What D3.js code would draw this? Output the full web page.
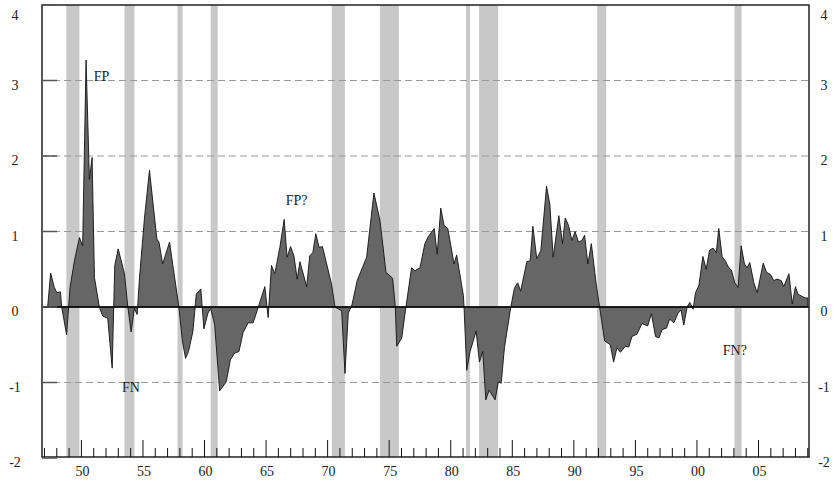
<!DOCTYPE html>
<html>
<head>
<meta charset="utf-8">
<script src="https://cdn.jsdelivr.net/npm/d3@7"></script>
<style>
body { margin: 0; background: #fff; }
text { font-family: "Liberation Serif", "DejaVu Serif", serif; font-size: 14px; fill: #222; }
</style>
</head>
<body>
<div id="plot"></div>
<script>
var width = 836, height = 483;
var margin = { top: 5, right: 27, bottom: 26, left: 42 };

// recession bands (in chart's year units)
var recessions = [[1948.78, 1949.84], [1953.5, 1954.31], [1957.81, 1958.22], [1960.5, 1961.07],
    [1970.34, 1971.4], [1974.25, 1975.79], [1981.24, 1981.57], [1982.3, 1983.85],
    [1991.9, 1992.63], [2003.05, 2003.62]];

var years = [1947.0, 1947.26, 1947.5, 1947.8, 1948.0, 1948.3, 1948.4, 1948.8, 1949.08, 1949.43, 1949.84,
    1950.1, 1950.38, 1950.65, 1950.87, 1951.06, 1951.46, 1951.73, 1952.14, 1952.5, 1952.71, 1952.99,
    1953.5, 1953.77, 1954.04, 1954.3, 1954.53, 1954.72, 1955.13, 1955.53, 1956.13, 1956.3, 1956.6,
    1957.16, 1957.43, 1957.92, 1958.2, 1958.46, 1958.7, 1959.06, 1959.33, 1959.7, 1959.95, 1960.28,
    1960.5, 1960.82, 1961.23, 1961.77, 1962.1, 1962.45, 1962.8, 1963.13, 1963.54, 1963.95, 1964.35,
    1964.9, 1965.17, 1965.44, 1965.71, 1966.12, 1966.47, 1966.71, 1966.99, 1967.26, 1967.53, 1967.75,
    1968.3, 1968.55, 1968.8, 1969.04, 1969.31, 1969.58, 1970.32, 1970.6, 1971.14, 1971.41, 1971.68,
    1971.95, 1972.4, 1973.17, 1973.76, 1974.25, 1974.74, 1975.28, 1975.5, 1975.61, 1976.02, 1976.36,
    1976.82, 1977.1, 1977.5, 1977.9, 1978.17, 1978.66, 1978.9, 1979.19, 1979.46, 1979.76, 1980.27,
    1980.48, 1981.03, 1981.08, 1981.3, 1981.57, 1982.06, 1982.33, 1982.6, 1982.85, 1983.12, 1983.6,
    1983.87, 1984.1, 1984.36, 1984.88, 1985.17, 1985.44, 1985.68, 1986.18, 1986.45, 1986.67, 1986.99,
    1987.32, 1987.78, 1988.05, 1988.32, 1988.78, 1989.08, 1989.3, 1989.57, 1989.84, 1990.1, 1990.38,
    1990.65, 1990.87, 1991.14, 1991.42, 1991.82, 1992.09, 1992.5, 1992.96, 1993.23, 1993.5, 1993.78,
    1994.18, 1994.46, 1994.72, 1995.13, 1995.53, 1996.0, 1996.3, 1996.63, 1996.9, 1997.17, 1997.52,
    1997.79, 1998.12, 1998.47, 1998.71, 1998.93, 1999.2, 1999.42, 1999.69, 1999.88, 2000.15, 2000.48,
    2000.75, 2001.02, 2001.3, 2001.57, 2001.77, 2002.04, 2002.31, 2002.58, 2002.8, 2003.07, 2003.34,
    2003.59, 2003.86, 2004.07, 2004.29, 2004.62, 2004.89, 2005.38, 2005.65, 2005.97, 2006.24, 2006.51,
    2006.84, 2007.05, 2007.47, 2007.74, 2008.0, 2008.2, 2008.55, 2008.82, 2009.0];

var values = [0, 0, 0.45, 0.26, 0.19, 0.2, 0, -0.37, 0.26, 0.61, 0.92,
    0.81, 3.27, 1.69, 1.98, 0.39, 0, -0.12, -0.15, -0.81, 0.55, 0.77,
    0.44, 0, -0.33, -0.02, -0.1, 0.39, 1.19, 1.81, 0.9, 0.86, 0.57,
    0.86, 0.55, 0, -0.45, -0.68, -0.59, -0.32, 0.17, 0.24, -0.29, -0.08,
    -0.02, -0.23, -1.11, -0.99, -0.7, -0.61, -0.59, -0.34, -0.21, -0.21, -0.01,
    0.27, -0.14, 0.55, 0.44, 0.79, 1.16, 0.66, 0.8, 0.68, 0.37, 0.6,
    0.27, 0.68, 0.72, 0.97, 0.79, 0.8, 0.3, 0, -0.05, -0.88, -0.08,
    0.01, 0.35, 0.66, 1.51, 1.15, 0.46, 0.38, 0, -0.52, -0.41, 0,
    0.52, 0.48, 0.52, 0.84, 0.93, 1.04, 0.7, 1.31, 1.08, 1.04, 0.57,
    0.69, 0.15, 0, -0.84, -0.59, -0.32, -0.73, -0.59, -1.23, -1.1, -1.23,
    -0.99, -1.01, -0.54, 0, 0.25, 0.32, 0.21, 0.6, 0.61, 1.07, 0.64,
    0.75, 1.6, 1.36, 0.66, 1.21, 0.84, 1.18, 1.08, 0.88, 1.0, 0.86,
    0.88, 0.95, 0.57, 0.84, 0.3, 0, -0.45, -0.5, -0.73, -0.54, -0.6,
    -0.52, -0.53, -0.39, -0.36, -0.22, -0.25, -0.09, -0.39, -0.41, -0.3, -0.28,
    -0.16, -0.21, -0.08, -0.04, -0.24, 0, 0.06, -0.03, 0.19, 0.28, 0.67,
    0.5, 0.75, 0.78, 0.72, 1.04, 0.67, 0.61, 0.52, 0.49, 0.32, 0.26,
    0.81, 0.57, 0.52, 0.59, 0.32, 0.19, 0.58, 0.46, 0.43, 0.35, 0.37,
    0.35, 0.27, 0.44, 0.04, 0.27, 0.17, 0.14, 0.12, 0.12];

var data = years.map(function(y, i) { return { x: y, y: values[i] }; });

var yTicks = [-2, -1, 0, 1, 2, 3, 4];
var majorYears = [1950, 1955, 1960, 1965, 1970, 1975, 1980, 1985, 1990, 1995, 2000, 2005];
var majorLabels = ["50", "55", "60", "65", "70", "75", "80", "85", "90", "95", "00", "05"];
var notes = [{ x: 1951.0, y: 3.0, t: "FP" }, { x: 1953.3, y: -1.13, t: "FN" },
    { x: 1966.6, y: 1.35, t: "FP?" }, { x: 2002.1, y: -0.64, t: "FN?" }];

var w = width - margin.left - margin.right,
    h = height - margin.top - margin.bottom;

var xScale = d3.scaleLinear().domain([1946.8, 2009.1]).range([0, w]);
var yScale = d3.scaleLinear().domain([-2, 4]).range([h + 1, 0]);

var svg = d3.select("#plot").append("svg")
    .attr("width", width).attr("height", height)
    .append("g")
    .attr("transform", "translate(" + margin.left + "," + margin.top + ")");

// recession shading
svg.selectAll(".rec").data(recessions).enter().append("rect")
    .attr("x", function(d) { return xScale(d[0]); })
    .attr("width", function(d) { return xScale(d[1]) - xScale(d[0]); })
    .attr("y", 0).attr("height", h)
    .attr("fill", "#c8c8c8");

// dashed grid
svg.selectAll(".grid").data(yTicks.filter(function(d) { return d != 0 && d != 4 && d != -2; })).enter()
    .append("line")
    .attr("x1", 0).attr("x2", w)
    .attr("y1", function(d) { return yScale(d); }).attr("y2", function(d) { return yScale(d); })
    .attr("stroke", "#999").attr("stroke-width", 1.2).attr("stroke-dasharray", "7,4");

// area
var area = d3.area()
    .x(function(d) { return xScale(d.x); })
    .y0(yScale(0))
    .y1(function(d) { return yScale(d.y); });
svg.append("path").datum(data)
    .attr("d", area)
    .attr("fill", "#666").attr("stroke", "#111").attr("stroke-width", 0.9);

// zero line
svg.append("line").attr("x1", 0).attr("x2", w)
    .attr("y1", yScale(0)).attr("y2", yScale(0))
    .attr("stroke", "#000").attr("stroke-width", 1.5);

// frame
svg.append("rect").attr("x", 0).attr("y", 0).attr("width", w).attr("height", h)
    .attr("fill", "none").attr("stroke", "#222").attr("stroke-width", 1.5);

// y tick marks and labels on both sides
yTicks.forEach(function(t) {
    var dy = t == 4 ? 15 : 9;
    svg.append("line").attr("x1", 0).attr("x2", 15)
        .attr("y1", yScale(t)).attr("y2", yScale(t))
        .attr("stroke", "#555").attr("stroke-width", 1.5);
    svg.append("text").attr("x", -27).attr("y", yScale(t) + dy)
        .style("text-anchor", "middle").text(t);
    svg.append("text").attr("x", w + 15).attr("y", yScale(t) + dy)
        .style("text-anchor", "middle").text(t);
});

// x ticks: minor yearly, major every 5
d3.range(1947, 2010).forEach(function(yr) {
    var major = majorYears.indexOf(yr) >= 0;
    svg.append("line").attr("x1", xScale(yr)).attr("x2", xScale(yr))
        .attr("y1", h).attr("y2", h - (major ? 17 : 9))
        .attr("stroke", "#111").attr("stroke-width", 1);
});
svg.selectAll(".xl").data(majorYears).enter().append("text")
    .attr("x", function(d) { return xScale(d) + 1; })
    .attr("y", h + 19)
    .style("text-anchor", "middle")
    .text(function(d, i) { return majorLabels[i]; });

// annotations
svg.selectAll(".note").data(notes).enter().append("text")
    .attr("x", function(d) { return xScale(d.x); })
    .attr("y", function(d) { return yScale(d.y); })
    .text(function(d) { return d.t; });
</script>
</body>
</html>
